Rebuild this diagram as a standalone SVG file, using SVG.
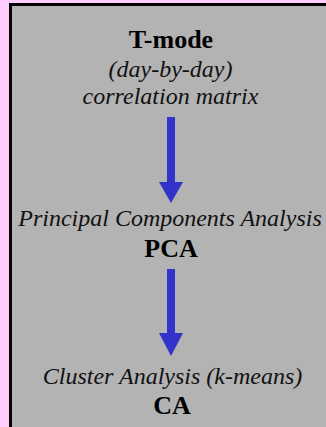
<svg xmlns="http://www.w3.org/2000/svg" width="326" height="427" viewBox="0 0 326 427">
<style>
.b{font-family:"Liberation Serif","Times New Roman",serif;font-weight:bold;font-size:26px;fill:#000;text-anchor:middle}
.i{font-family:"Liberation Serif","Times New Roman",serif;font-style:italic;font-size:24px;fill:#111;text-anchor:middle}
.arr{fill:#3333cc}
</style>
<rect x="0" y="0" width="326" height="427" fill="#ffccff"/>
<g id="panel">
<rect x="10.5" y="4.5" width="330" height="440" fill="#b3b3b3" stroke="#000" stroke-width="3"/>
</g>
<g id="node-tmode">
<text class="b" x="171" y="48">T-mode</text>
<text class="i" x="170.5" y="77">(day-by-day)</text>
<text class="i" x="170.5" y="104">correlation matrix</text>
</g>
<g id="node-pca">
<text class="i" x="170" y="226">Principal Components Analysis</text>
<text class="b" x="171" y="257">PCA</text>
</g>
<g id="node-ca">
<text class="i" x="172.5" y="384">Cluster Analysis (k-means)</text>
<text class="b" x="172" y="414">CA</text>
</g>
<g id="connectors">
<path class="arr" d="M167 117 H175 V182 H183 L171 203 L159 182 H167 Z"/>
<path class="arr" d="M167 269 H175 V333 H183 L171 356 L159 333 H167 Z"/>
</g>
</svg>
